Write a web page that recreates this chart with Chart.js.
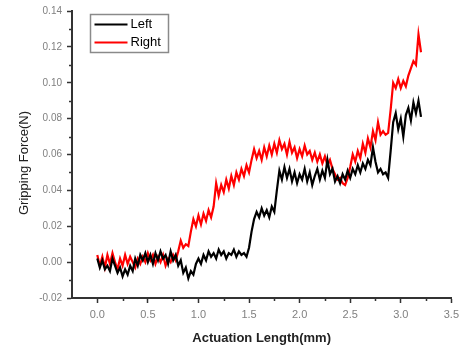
<!DOCTYPE html>
<html>
<head>
<meta charset="utf-8">
<script src="https://cdn.jsdelivr.net/npm/chart.js@4.4.1/dist/chart.umd.min.js"></script>
<style>
    html, body { margin: 0; padding: 0; background: #ffffff; }
    #wrap { width: 464px; height: 348px; }
</style>
</head>
<body>
<div id="wrap"><canvas id="forceChart" width="464" height="348"></canvas></div>
<script>
/*==================================================
DATA
==================================================*/

const lengthMm = [
    0.000, 0.025, 0.050, 0.075, 0.100, 0.125, 0.150, 0.175, 0.200, 0.225,
    0.250, 0.275, 0.300, 0.325, 0.350, 0.375, 0.400, 0.425, 0.450, 0.475,
    0.500, 0.525, 0.550, 0.575, 0.600, 0.625, 0.650, 0.675, 0.700, 0.725,
    0.750, 0.775, 0.800, 0.825, 0.850, 0.875, 0.900, 0.925, 0.950, 0.975,
    1.000, 1.025, 1.050, 1.075, 1.100, 1.125, 1.150, 1.175, 1.200, 1.225,
    1.250, 1.275, 1.300, 1.325, 1.350, 1.375, 1.400, 1.425, 1.450, 1.475,
    1.500, 1.525, 1.550, 1.575, 1.600, 1.625, 1.650, 1.675, 1.700, 1.725,
    1.750, 1.775, 1.800, 1.825, 1.850, 1.875, 1.900, 1.925, 1.950, 1.975,
    2.000, 2.025, 2.050, 2.075, 2.100, 2.125, 2.150, 2.175, 2.200, 2.225,
    2.250, 2.275, 2.300, 2.325, 2.350, 2.375, 2.400, 2.425, 2.450, 2.475,
    2.500, 2.525, 2.550, 2.575, 2.600, 2.625, 2.650, 2.675, 2.700, 2.725,
    2.750, 2.775, 2.800, 2.825, 2.850, 2.875, 2.900, 2.925, 2.950, 2.975,
    3.000, 3.025, 3.050, 3.075, 3.100, 3.125, 3.150, 3.175, 3.200
];

const leftForce = [
    0.002, -0.003, 0.001, -0.004, -0.002, -0.005, 0.002, -0.002, -0.006, -0.003,
    -0.008, -0.004, -0.007, -0.002, -0.005, 0.002, -0.002, 0.004, 0.001, 0.005,
    0.000, 0.004, -0.001, 0.005, 0.001, 0.006, 0.002, 0.004, -0.001, 0.006,
    0.001, 0.004, -0.002, 0.001, -0.006, -0.003, -0.009, -0.005, -0.007, -0.001,
    0.002, -0.001, 0.004, 0.001, 0.006, 0.003, 0.005, 0.002, 0.007, 0.004,
    0.006, 0.002, 0.005, 0.004, 0.007, 0.003, 0.006, 0.004, 0.005, 0.003,
    0.008, 0.017, 0.024, 0.028, 0.025, 0.030, 0.026, 0.029, 0.025, 0.031,
    0.028, 0.040, 0.051, 0.046, 0.053, 0.047, 0.052, 0.045, 0.050, 0.044,
    0.049, 0.046, 0.052, 0.045, 0.050, 0.043, 0.048, 0.052, 0.046, 0.051,
    0.047, 0.057, 0.049, 0.052, 0.045, 0.048, 0.044, 0.049, 0.046, 0.051,
    0.047, 0.052, 0.049, 0.054, 0.050, 0.055, 0.052, 0.057, 0.054, 0.064,
    0.056, 0.050, 0.052, 0.049, 0.050, 0.047, 0.062, 0.078, 0.083, 0.074,
    0.080, 0.070, 0.082, 0.086, 0.079, 0.089, 0.083, 0.090, 0.081
];

const rightForce = [
    0.004, -0.002, 0.003, -0.003, 0.004, -0.001, 0.005, 0.000, -0.004, 0.002,
    -0.002, 0.004, -0.001, 0.003, 0.000, -0.003, 0.002, -0.001, 0.003, 0.000,
    0.005, 0.001, 0.004, -0.001, 0.003, 0.000, 0.004, -0.002, 0.002, 0.000,
    0.004, 0.001, 0.006, 0.012, 0.008, 0.010, 0.009, 0.017, 0.024, 0.020,
    0.026, 0.021, 0.027, 0.023, 0.029, 0.025, 0.031, 0.044, 0.037, 0.043,
    0.039, 0.046, 0.041, 0.048, 0.043, 0.050, 0.046, 0.052, 0.048, 0.054,
    0.050, 0.057, 0.063, 0.058, 0.062, 0.057, 0.064, 0.059, 0.065, 0.060,
    0.066, 0.061, 0.068, 0.063, 0.066, 0.060, 0.067, 0.061, 0.064, 0.058,
    0.063, 0.059, 0.065, 0.060, 0.062, 0.057, 0.061, 0.056, 0.060, 0.055,
    0.059, 0.054, 0.057, 0.052, 0.049, 0.046, 0.047, 0.044, 0.043, 0.047,
    0.053, 0.060, 0.056, 0.062, 0.058, 0.066, 0.061, 0.069, 0.064, 0.073,
    0.068, 0.078, 0.071, 0.073, 0.071, 0.072, 0.085, 0.100, 0.097, 0.102,
    0.097, 0.101, 0.098, 0.104, 0.108, 0.112, 0.110, 0.127, 0.117
];

const seriesNames = ["Left", "Right"];
const seriesColors = ["#000000", "#ff0000"];

const xTitle = "Actuation Length(mm)";
const yTitle = "Gripping Force(N)";

/*==================================================
PLUGIN: MINOR TICKS, Y TITLE, BOXED LEGEND
==================================================*/

const originExtras = {

    id: "originExtras",

    afterDraw(chart) {

        const ctx = chart.ctx;
        const area = chart.chartArea;
        const xs = chart.scales.x;
        const ys = chart.scales.y;

        ctx.save();

        // minor ticks
        ctx.strokeStyle = "#333333";
        ctx.lineWidth = 1.5;
        ctx.beginPath();

        for (let v = -0.01; v < 0.14; v += 0.02) {
            const py = Math.round(ys.getPixelForValue(v)) + 0.5;
            ctx.moveTo(area.left - 3, py);
            ctx.lineTo(area.left, py);
        }

        for (let v = 0.25; v < 3.5; v += 0.5) {
            const px = Math.round(xs.getPixelForValue(v)) + 0.5;
            ctx.moveTo(px, area.bottom);
            ctx.lineTo(px, area.bottom + 3);
        }

        ctx.stroke();

        // y axis title
        ctx.save();
        ctx.translate(24, 163);
        ctx.rotate(-Math.PI / 2);
        ctx.fillStyle = "#222222";
        ctx.font = "13px 'Liberation Sans', Arial, sans-serif";
        ctx.textAlign = "center";
        ctx.textBaseline = "middle";
        ctx.fillText(yTitle, 0, 0);
        ctx.restore();

        // legend box
        const bx = area.left + 18.5;
        const by = area.top + 3.5;
        const bw = 78;
        const bh = 38;

        ctx.strokeStyle = "#8a8a8a";
        ctx.lineWidth = 1.5;
        ctx.strokeRect(bx, by, bw, bh);

        ctx.font = "13px 'Liberation Sans', Arial, sans-serif";
        ctx.textBaseline = "middle";
        ctx.textAlign = "left";

        chart.data.datasets.forEach((ds, i) => {

            const ly = by + 10 + i * 18;

            ctx.strokeStyle = ds.borderColor;
            ctx.lineWidth = 2;
            ctx.beginPath();
            ctx.moveTo(bx + 4, ly);
            ctx.lineTo(bx + 37, ly);
            ctx.stroke();

            ctx.fillStyle = "#000000";
            ctx.fillText(ds.label, bx + 40, ly);

        });

        ctx.restore();

    }

};

/*==================================================
CHART
==================================================*/

function makePoints(values) {
    return values.map((v, i) => ({ x: lengthMm[i], y: v }));
}

new Chart(document.getElementById("forceChart"), {

    type: "line",

    data: {

        datasets: [

            {
                label: seriesNames[0],
                data: makePoints(leftForce),
                borderColor: seriesColors[0],
                borderWidth: 2.2,
                pointRadius: 0,
                tension: 0
            },

            {
                label: seriesNames[1],
                data: makePoints(rightForce),
                borderColor: seriesColors[1],
                borderWidth: 2.2,
                pointRadius: 0,
                tension: 0
            }

        ]

    },

    options: {

        responsive: false,
        animation: false,

        layout: {
            padding: { left: 0, right: 11, top: 10, bottom: 0 }
        },

        plugins: {
            legend: { display: false },
            tooltip: { enabled: false }
        },

        scales: {

            x: {
                type: "linear",
                min: -0.25,
                max: 3.5,
                afterFit(scale) { scale.height = 50; },
                border: { color: "#333333", width: 2 },
                grid: {
                    drawOnChartArea: false,
                    tickLength: 5,
                    tickColor: "#333333",
                    tickWidth: 1.5
                },
                ticks: {
                    stepSize: 0.5,
                    includeBounds: false,
                    padding: 5,
                    color: "#808080",
                    font: { size: 11, family: "'Liberation Sans', Arial, sans-serif" },
                    callback: v => v.toFixed(1)
                },
                title: {
                    display: true,
                    text: xTitle,
                    color: "#222222",
                    font: { size: 13, weight: "bold", family: "'Liberation Sans', Arial, sans-serif" },
                    padding: { top: 0, bottom: 2 }
                }
            },

            y: {
                min: -0.02,
                max: 0.14,
                afterFit(scale) { scale.width = 72; },
                border: { color: "#333333", width: 2 },
                grid: {
                    drawOnChartArea: false,
                    tickLength: 5,
                    tickColor: "#333333",
                    tickWidth: 1.5
                },
                ticks: {
                    stepSize: 0.02,
                    padding: 5,
                    color: "#808080",
                    font: { size: 10, family: "'Liberation Sans', Arial, sans-serif" },
                    callback: v => v.toFixed(2)
                }
            }

        }

    },

    plugins: [originExtras]

});
</script>
</body>
</html>
